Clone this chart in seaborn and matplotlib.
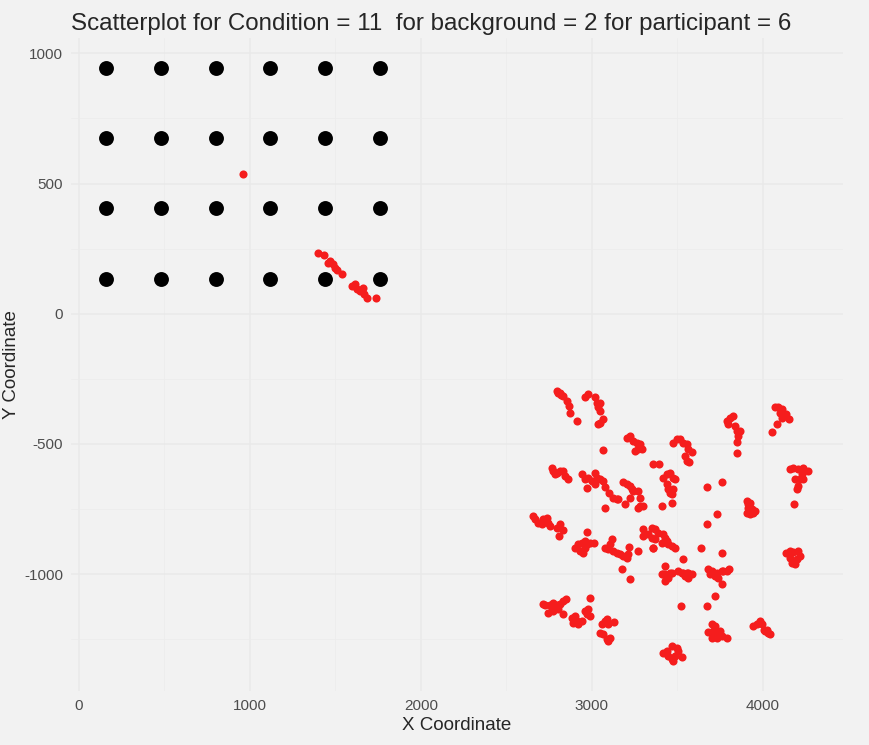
import pandas as pd
import matplotlib.pyplot as plt
import seaborn as sns
from matplotlib.ticker import MultipleLocator

# target grid (black dots)
target_x = [160, 480, 800, 1120, 1440, 1760]
target_y = [945, 675, 405, 135]

# gaze samples (red dots), grouped roughly by fixation
gaze_x = [
    959, 1398, 1433, 1456, 1468, 1485, 1497, 1509, 1538, 1596, 1614, 1626, 1643, 1661, 1667, 1684, 1737,
    2794, 2801, 2813, 2820, 2830, 2852, 2866, 2871, 2912,
    2959, 2977, 3018, 3027, 3047, 3035, 3047, 3064, 3047, 3035,
    3203, 3222, 3240, 3261, 3281, 3269, 3251, 3291, 3064,
    3474, 3495, 3515, 3532, 3554, 3561, 3583, 3544, 3554, 3567, 3357, 3392,
    3788, 3807, 3825, 3795, 3836, 3846, 3865, 3854, 3846, 3848,
    4070, 4088, 4109, 4100, 4117, 4138, 4152, 4109, 4080, 4051,
    4158, 4175, 4205, 4234, 4263, 4226, 4187, 4216, 4234, 4205, 4197, 4181,
    2764, 2772, 2794, 2813, 2830, 2842, 2860, 2784,
    2940, 2959, 2977, 2998, 3018, 3027, 3047, 3064, 2969, 3018,
    3076, 3099, 3123, 3144, 3152, 3076,
    3181, 3203, 3222, 3232, 3240, 3222, 3269, 3281, 3269, 3281, 3298, 3193,
    3415, 3437, 3456, 3474, 3485, 3437, 3445, 3456, 3466, 3474, 3466, 3408,
    3671, 3760, 3731, 3674,
    3905, 3924, 3912, 3934, 3942, 3924, 3953, 3912, 3905,
    2657, 2667, 2686, 2706, 2715, 2735, 2745, 2754, 2794, 2813, 2832, 2807,
    2900, 2920, 2940, 2959, 2969, 2988, 3012, 2930, 2949, 2959, 2969,
    3076, 3095, 3105, 3115, 3125, 3144, 3164, 3183, 3203, 3212, 3218, 3271, 3177, 3222,
    3300, 3329, 3349, 3300, 3359, 3349, 3368, 3388, 3417, 3427, 3437, 3446, 3466, 3485, 3368, 3359, 3408,
    3637, 3758, 3534,
    3427, 3417, 3456, 3426, 3444, 3466, 3427, 3446, 3409,
    3505, 3534, 3563, 3583, 3525, 3544, 3563, 3554,
    3680, 3700, 3729, 3758, 3768, 3803, 3690, 3719, 3739, 3758, 3788,
    3719, 3519, 3674,
    4138, 4158, 4177, 4207, 4216, 4197, 4168, 4187, 4158,
    3700, 3719, 3680, 3709, 3729, 3749, 3700, 3729, 3758, 3793,
    3943, 3963, 3982, 3992, 4012, 4031, 4041, 4022, 4009,
    2725, 2754, 2774, 2794, 2813, 2832, 2848, 2745, 2774, 2803, 2832, 2764, 2713, 2988,
    2881, 2900, 2911, 2920, 2891, 2940, 2959, 2969, 2988, 2978,
    3057, 3076, 3086, 3095, 3047, 3066, 3086, 3105, 3095, 3130,
    3417, 3437, 3466, 3495, 3505, 3446, 3466, 3475, 3529, 3485,
]
gaze_y = [
    538, 235, 227, 196, 204, 192, 177, 169, 154, 108, 115, 96, 88, 100, 77, 62, 62,
    -296, -304, -303, -311, -315, -335, -354, -383, -412,
    -319, -308, -319, -341, -341, -360, -373, -404, -418, -423,
    -476, -469, -488, -495, -500, -519, -527, -519, -524,
    -495, -481, -481, -495, -500, -519, -533, -546, -565, -568, -577, -576,
    -412, -399, -392, -423, -431, -450, -450, -469, -491, -536,
    -360, -360, -365, -380, -385, -385, -403, -399, -423, -454,
    -597, -591, -597, -591, -604, -615, -635, -635, -635, -662, -673, -730,
    -591, -604, -610, -604, -604, -623, -635, -615,
    -615, -635, -630, -642, -610, -630, -635, -642, -668, -654,
    -665, -687, -707, -712, -712, -745,
    -645, -654, -662, -673, -681, -707, -681, -707, -745, -738, -738, -731,
    -630, -615, -610, -630, -635, -654, -673, -687, -692, -673, -726, -738,
    -665, -646, -769, -807,
    -719, -726, -745, -751, -764, -770, -758, -732, -764,
    -777, -790, -803, -809, -790, -783, -803, -815, -822, -809, -832, -854,
    -899, -886, -880, -873, -886, -880, -882, -912, -918, -899, -838,
    -899, -905, -886, -867, -912, -918, -924, -931, -937, -924, -896, -912, -980, -1020,
    -828, -847, -860, -854, -899, -822, -828, -841, -847, -860, -873, -886, -892, -899, -867, -899, -880,
    -899, -918, -941,
    -969, -1001, -995, -1027, -1008, -995, -1001, -1014, -1001,
    -988, -995, -995, -999, -995, -1008, -1014, -995,
    -982, -988, -995, -988, -988, -982, -1001, -1008, -1014, -1040, -988,
    -1085, -1122, -1122,
    -918, -912, -915, -912, -931, -943, -959, -963, -937,
    -1193, -1200, -1222, -1219, -1226, -1219, -1245, -1245, -1238, -1245,
    -1200, -1193, -1181, -1193, -1219, -1226, -1232, -1213, -1213,
    -1117, -1119, -1110, -1117, -1114, -1104, -1095, -1149, -1142, -1136, -1155, -1130, -1115, -1093,
    -1168, -1161, -1181, -1193, -1187, -1181, -1142, -1155, -1161, -1136,
    -1193, -1181, -1174, -1193, -1226, -1232, -1251, -1245, -1258, -1183,
    -1303, -1296, -1277, -1283, -1296, -1315, -1328, -1335, -1319, -1315,
]

targets = pd.DataFrame([(x, y) for y in target_y for x in target_x], columns=["x", "y"])
gaze = pd.DataFrame({"x": gaze_x, "y": gaze_y})

bg = "#f2f2f2"
sns.set_theme(style="whitegrid", rc={
    "axes.facecolor": bg,
    "figure.facecolor": bg,
    "axes.edgecolor": bg,
    "grid.color": "#ebebeb",
    "axes.unicode_minus": False,
})
plt.rcParams["font.family"] = ["Liberation Sans", "DejaVu Sans"]

fig, ax = plt.subplots(figsize=(8.69, 7.45), dpi=100)
fig.subplots_adjust(left=0.082, right=0.970, top=0.949, bottom=0.0725)

sns.scatterplot(data=targets, x="x", y="y", color="black", s=115, linewidth=0, ax=ax)
sns.scatterplot(data=gaze, x="x", y="y", color="#f51d1d", s=34, linewidth=0, ax=ax)

# ggplot-like 5% expansion
all_x = pd.concat([targets["x"], gaze["x"]])
all_y = pd.concat([targets["y"], gaze["y"]])
dx = (all_x.max() - all_x.min()) * 0.05
dy = (all_y.max() - all_y.min()) * 0.05
ax.set_xlim(all_x.min() - dx, all_x.max() + dx)
ax.set_ylim(all_y.min() - dy, all_y.max() + dy)

ax.xaxis.set_major_locator(MultipleLocator(1000))
ax.xaxis.set_minor_locator(MultipleLocator(500))
ax.yaxis.set_major_locator(MultipleLocator(500))
ax.yaxis.set_minor_locator(MultipleLocator(250))
ax.grid(True, which="major", color="#e9e9e9", linewidth=1.1)
ax.grid(True, which="minor", color="#ececec", linewidth=0.55)
ax.set_axisbelow(True)
for s in ax.spines.values():
    s.set_visible(False)
ax.tick_params(which="both", length=0, labelsize=11, labelcolor="#4d4d4d", pad=6)

ax.set_title("Scatterplot for Condition = 11  for background = 2 for participant = 6",
             loc="left", fontsize=17.4, pad=6)
ax.set_xlabel("X Coordinate", fontsize=13.5, labelpad=3)
ax.set_ylabel("Y Coordinate", fontsize=13.5)
ax.yaxis.set_label_coords(-0.066, 0.5)

plt.savefig("out.png", dpi=100, facecolor=bg)
